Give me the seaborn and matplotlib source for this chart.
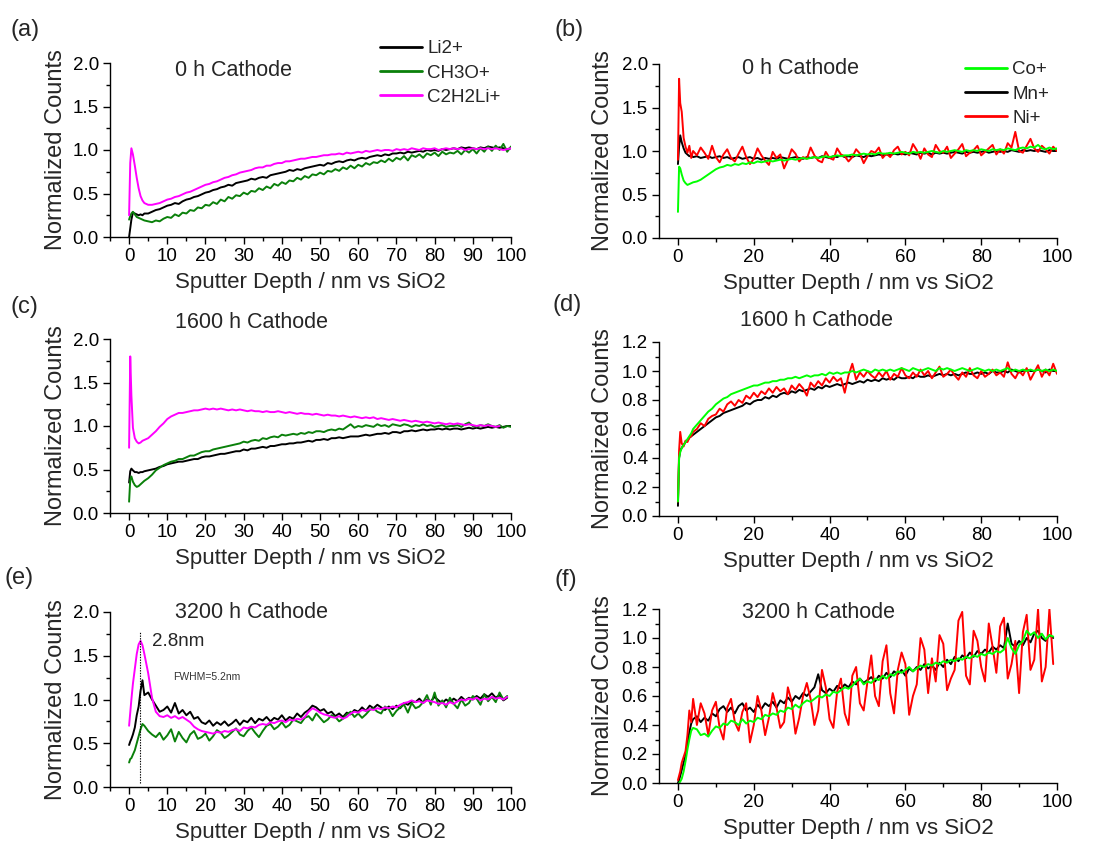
import matplotlib
matplotlib.use("Agg")
import matplotlib.pyplot as plt
from matplotlib.ticker import MultipleLocator
from matplotlib.lines import Line2D
import seaborn as sns

nan = float("nan")

# ---------------- data ----------------
depth = [0, 0.3, 0.6, 1, 1.5, 2, 2.5, 3, 3.5, 4,
         5, 6, 7, 8, 9, 10, 11, 12, 13, 14,
         15, 16, 17, 18, 19, 20, 21, 22, 23, 24,
         25, 26, 27, 28, 29, 30, 31, 32, 33, 34,
         35, 36, 37, 38, 39, 40, 41, 42, 43, 44,
         45, 46, 47, 48, 49, 50, 51, 52, 53, 54,
         55, 56, 57, 58, 59, 60, 61, 62, 63, 64,
         65, 66, 67, 68, 69, 70, 71, 72, 73, 74,
         75, 76, 77, 78, 79, 80, 81, 82, 83, 84,
         85, 86, 87, 88, 89, 90, 91, 92, 93, 94,
         95, 96, 97, 98, 99, 100]

# (a) 0 h, organic / Li species
a_li2 = [0.0, 0.1, 0.2, 0.28, 0.27, 0.26, 0.25, 0.26, 0.25, 0.27,
         0.27, 0.29, 0.31, 0.32, 0.34, 0.36, 0.37, 0.39, 0.38, 0.41,
         0.43, 0.44, 0.46, 0.47, 0.49, 0.51, 0.52, 0.54, 0.55, 0.57,
         0.58, 0.60, 0.59, 0.62, 0.63, 0.64, 0.65, 0.67, 0.66, 0.68,
         0.69, 0.68, 0.71, 0.72, 0.73, 0.74, 0.75, 0.77, 0.76, 0.78,
         0.77, 0.79, 0.80, 0.81, 0.82, 0.83, 0.82, 0.85, 0.84, 0.86,
         0.87, 0.86, 0.88, 0.89, 0.88, 0.90, 0.91, 0.90, 0.92, 0.93,
         0.94, 0.93, 0.95, 0.94, 0.96, 0.96, 0.97, 0.96, 0.98, 0.97,
         0.98, 0.99, 0.98, 1.00, 0.99, 1.00, 0.99, 1.01, 1.00, 1.01,
         1.02, 1.01, 1.03, 1.02, 1.03, 1.02, 1.01, 1.03, 1.02, 1.04,
         1.03, 1.02, 1.03, 1.02, 1.01, 1.02]
a_ch3o = [0.20, 0.24, 0.27, 0.29, 0.26, 0.23, 0.22, 0.21, 0.20, 0.19,
          0.18, 0.17, 0.19, 0.18, 0.21, 0.23, 0.22, 0.26, 0.24, 0.28,
          0.27, 0.31, 0.30, 0.34, 0.33, 0.37, 0.36, 0.40, 0.38, 0.43,
          0.41, 0.46, 0.44, 0.48, 0.47, 0.51, 0.49, 0.53, 0.52, 0.56,
          0.54, 0.58, 0.56, 0.61, 0.59, 0.63, 0.61, 0.65, 0.64, 0.68,
          0.66, 0.70, 0.68, 0.72, 0.71, 0.74, 0.72, 0.76, 0.75, 0.78,
          0.76, 0.80, 0.78, 0.82, 0.79, 0.83, 0.81, 0.85, 0.83, 0.86,
          0.85, 0.88, 0.86, 0.90, 0.87, 0.91, 0.89, 0.93, 0.88, 0.94,
          0.92, 0.95, 0.91, 0.96, 0.94, 0.97, 0.93, 0.98, 0.95, 0.97,
          0.96, 0.99, 0.95, 1.00, 0.97, 1.01, 0.96, 1.02, 0.98, 1.04,
          0.99, 1.05, 1.00, 1.07, 0.98, 1.04]
a_c2h2li = [0.25, 0.85, 1.02, 0.95, 0.82, 0.68, 0.56, 0.47, 0.42, 0.39,
            0.37, 0.37, 0.38, 0.39, 0.41, 0.43, 0.44, 0.46, 0.47, 0.49,
            0.51, 0.52, 0.54, 0.56, 0.58, 0.60, 0.61, 0.63, 0.64, 0.66,
            0.68, 0.69, 0.71, 0.72, 0.74, 0.75, 0.76, 0.77, 0.79, 0.80,
            0.80, 0.82, 0.82, 0.84, 0.85, 0.85, 0.87, 0.87, 0.88, 0.89,
            0.90, 0.90, 0.91, 0.92, 0.92, 0.93, 0.94, 0.94, 0.95, 0.95,
            0.96, 0.95, 0.97, 0.96, 0.97, 0.98, 0.97, 0.99, 0.98, 0.99,
            1.00, 0.99, 1.00, 1.00, 0.99, 1.01, 1.00, 1.01, 1.00, 1.02,
            1.01, 1.00, 1.02, 1.01, 1.01, 1.02, 1.00, 1.01, 1.02, 1.01,
            1.02, 1.01, 1.02, 1.00, 1.01, 1.02, 1.01, 1.02, 1.01, 1.02,
            1.01, 1.02, 1.01, 1.00, 1.01, 1.02]

# (b) 0 h, transition metals
b_mn = [0.85, 1.05, 1.18, 1.10, 1.03, 0.98, 0.96, 0.94, 0.95, 0.93,
        0.94, 0.92, 0.93, 0.94, 0.92, 0.93, 0.94, 0.92, 0.93, 0.91,
        0.92, 0.93, 0.91, 0.92, 0.93, 0.91, 0.92, 0.90, 0.92, 0.91,
        0.92, 0.91, 0.93, 0.92, 0.91, 0.92, 0.93, 0.92, 0.91, 0.93,
        0.92, 0.93, 0.92, 0.94, 0.93, 0.92, 0.94, 0.93, 0.95, 0.93,
        0.94, 0.93, 0.95, 0.94, 0.93, 0.95, 0.94, 0.95, 0.96, 0.95,
        0.96, 0.95, 0.97, 0.96, 0.97, 0.96, 0.98, 0.97, 0.96, 0.98,
        0.97, 0.98, 0.96, 0.98, 0.97, 0.98, 0.97, 0.98, 0.99, 0.98,
        0.97, 0.99, 0.98, 0.99, 0.98, 0.99, 1.00, 0.98, 0.99, 1.00,
        0.99, 1.00, 0.99, 1.01, 1.00, 0.99, 1.01, 1.00, 1.01, 1.00,
        1.01, 1.00, 0.99, 1.01, 1.00, 1.00]
b_ni = [0.90, 1.83, 1.55, 1.45, 1.15, 1.05, 0.98, 1.06, 0.92, 1.00,
        0.95, 1.04, 0.98, 0.91, 1.06, 0.93, 0.87, 0.96, 1.02, 0.92,
        0.88, 0.97, 1.05, 0.93, 0.85, 0.91, 1.03, 0.95, 0.89, 0.84,
        0.99, 0.92, 0.96, 0.80, 0.90, 1.02, 0.97, 0.88, 0.93, 0.91,
        1.04, 0.95, 0.89, 0.87, 0.99, 0.92, 0.90, 1.03, 0.96, 0.94,
        0.88, 0.93, 1.02, 0.97, 0.86, 0.94, 1.00, 0.98, 1.04, 0.92,
        0.97, 0.93, 1.01, 1.05, 0.96, 0.99, 0.95, 1.08, 1.01, 0.91,
        1.03, 0.96, 0.93, 1.07, 1.00, 0.98, 1.05, 0.92, 0.97, 1.02,
        1.08, 0.94, 0.98, 1.01, 1.06, 0.95, 0.99, 1.03, 1.07, 0.96,
        1.02, 0.97, 1.09, 1.04, 1.22, 1.00, 0.98, 1.06, 1.14, 1.03,
        0.99, 1.06, 1.02, 0.97, 1.05, 1.00]
b_co = [0.30, 0.82, 0.80, 0.73, 0.66, 0.63, 0.61, 0.62, 0.63, 0.64,
        0.65, 0.67, 0.70, 0.73, 0.76, 0.79, 0.81, 0.82, 0.84, 0.83,
        0.85, 0.84, 0.86, 0.85, 0.87, 0.86, 0.88, 0.87, 0.88, 0.89,
        0.88, 0.89, 0.90, 0.89, 0.90, 0.91, 0.90, 0.91, 0.92, 0.91,
        0.92, 0.93, 0.92, 0.93, 0.94, 0.93, 0.94, 0.95, 0.94, 0.95,
        0.95, 0.96, 0.95, 0.96, 0.97, 0.96, 0.97, 0.96, 0.98, 0.97,
        0.97, 0.98, 0.97, 0.98, 0.99, 0.98, 0.97, 0.99, 0.98, 0.99,
        0.98, 0.99, 1.00, 0.99, 0.98, 1.00, 0.99, 1.00, 1.01, 1.00,
        0.99, 1.01, 1.00, 1.01, 1.00, 1.02, 1.01, 1.00, 1.02, 1.01,
        1.02, 1.01, 1.03, 1.02, 1.01, 1.03, 1.04, 1.03, 1.05, 1.04,
        1.07, 1.03, 1.02, 1.04, 1.02, 1.03]

# (c) 1600 h, organic / Li species
c_li2 = [0.35, 0.48, 0.51, 0.49, 0.47, 0.47, 0.46, 0.47, 0.47, 0.48,
         0.49, 0.50, 0.51, 0.53, 0.54, 0.56, 0.57, 0.58, 0.59, 0.59,
         0.60, 0.61, 0.62, 0.62, 0.64, 0.65, 0.65, 0.66, 0.67, 0.68,
         0.68, 0.69, 0.70, 0.71, 0.71, 0.73, 0.72, 0.74, 0.74, 0.75,
         0.76, 0.75, 0.77, 0.77, 0.78, 0.79, 0.79, 0.80, 0.80, 0.81,
         0.81, 0.82, 0.83, 0.82, 0.84, 0.84, 0.85, 0.84, 0.86, 0.86,
         0.87, 0.86, 0.87, 0.88, 0.88, 0.88, 0.89, 0.90, 0.89, 0.90,
         0.91, 0.91, 0.92, 0.91, 0.93, 0.93, 0.92, 0.94, 0.94, 0.95,
         0.94, 0.95, 0.96, 0.95, 0.96, 0.96, 0.97, 0.96, 0.97, 0.96,
         0.97, 0.97, 0.96, 0.97, 0.98, 0.97, 0.98, 0.97, 0.98, 0.99,
         0.98, 0.99, 0.98, 0.99, 1.00, 1.00]
c_ch3o = [0.13, 0.38, 0.42, 0.36, 0.32, 0.30, 0.31, 0.33, 0.35, 0.37,
          0.40, 0.44, 0.49, 0.52, 0.55, 0.57, 0.59, 0.60, 0.62, 0.62,
          0.64, 0.66, 0.66, 0.68, 0.70, 0.71, 0.71, 0.73, 0.74, 0.75,
          0.76, 0.77, 0.78, 0.79, 0.80, 0.82, 0.81, 0.83, 0.84, 0.83,
          0.86, 0.85, 0.87, 0.88, 0.87, 0.90, 0.89, 0.90, 0.91, 0.90,
          0.92, 0.91, 0.93, 0.92, 0.94, 0.94, 0.93, 0.95, 0.96, 0.95,
          0.97, 0.96, 0.99, 1.02, 0.98, 1.00, 0.99, 1.01, 1.00, 0.99,
          1.02, 1.00, 1.01, 0.99, 1.02, 1.01, 1.00, 1.02, 1.01, 0.99,
          1.01, 1.00, 1.02, 1.00, 1.01, 0.99, 1.00, 1.01, 0.99, 1.00,
          1.00, 1.01, 0.99, 1.02, 1.04, 1.00, 0.99, 1.01, 1.00, 1.02,
          1.00, 0.99, 1.01, 0.98, 1.00, 0.99]
c_c2h2li = [0.75, 1.80, 1.35, 0.98, 0.86, 0.82, 0.80, 0.81, 0.83, 0.84,
            0.86, 0.90, 0.94, 0.99, 1.03, 1.08, 1.11, 1.13, 1.15, 1.15,
            1.16, 1.17, 1.18, 1.18, 1.19, 1.20, 1.19, 1.20, 1.19, 1.20,
            1.19, 1.18, 1.19, 1.18, 1.19, 1.18, 1.17, 1.18, 1.17, 1.17,
            1.16, 1.17, 1.16, 1.16, 1.17, 1.16, 1.15, 1.16, 1.15, 1.14,
            1.15, 1.14, 1.14, 1.13, 1.14, 1.13, 1.12, 1.13, 1.12, 1.12,
            1.11, 1.12, 1.11, 1.10, 1.11, 1.10, 1.09, 1.10, 1.09, 1.10,
            1.08, 1.09, 1.08, 1.07, 1.08, 1.07, 1.06, 1.07, 1.06, 1.05,
            1.06, 1.05, 1.04, 1.05, 1.04, 1.03, 1.04, 1.03, 1.02, 1.03,
            1.02, 1.03, 1.02, 1.01, 1.02, 1.01, 1.00, 1.01, 1.00, 1.01,
            1.00, 0.99, 1.00, nan, nan, nan]

# (d) 1600 h, transition metals
d_mn = [0.07, 0.40, 0.45, 0.47, 0.49, 0.51, 0.52, 0.54, 0.55, 0.56,
        0.58, 0.60, 0.62, 0.64, 0.66, 0.68, 0.69, 0.71, 0.72, 0.73,
        0.74, 0.75, 0.76, 0.78, 0.77, 0.79, 0.80, 0.80, 0.82, 0.81,
        0.83, 0.82, 0.84, 0.85, 0.84, 0.86, 0.85, 0.87, 0.86, 0.87,
        0.88, 0.87, 0.89, 0.88, 0.90, 0.89, 0.90, 0.91, 0.90, 0.91,
        0.92, 0.91, 0.92, 0.93, 0.92, 0.94, 0.93, 0.94, 0.93, 0.95,
        0.94, 0.95, 0.94, 0.96, 0.95, 0.95, 0.96, 0.95, 0.97, 0.96,
        0.96, 0.97, 0.96, 0.97, 0.98, 0.97, 0.98, 0.97, 0.98, 0.97,
        0.98, 0.99, 0.98, 0.98, 0.99, 0.98, 0.99, 0.98, 1.00, 0.99,
        0.99, 1.00, 0.99, 1.01, 1.00, 0.99, 1.00, 1.01, 1.00, 1.00,
        1.01, 1.00, 0.99, 1.01, 1.00, 1.00]
d_ni = [0.10, 0.45, 0.58, 0.50, 0.48, 0.52, 0.51, 0.54, 0.55, 0.58,
        0.60, 0.64, 0.62, 0.67, 0.69, 0.70, 0.74, 0.72, 0.77, 0.79,
        0.76, 0.80, 0.78, 0.83, 0.81, 0.85, 0.82, 0.86, 0.84, 0.88,
        0.85, 0.89, 0.86, 0.88, 0.84, 0.90, 0.87, 0.91, 0.88, 0.83,
        0.92, 0.89, 0.93, 0.90, 0.95, 0.92, 0.96, 0.93, 0.95, 0.85,
        0.97, 1.05, 0.94, 0.99, 0.96, 1.00, 0.97, 0.95, 0.99, 0.96,
        1.00, 0.94, 0.98, 0.96, 1.02, 0.97, 0.95, 0.99, 0.96, 1.01,
        0.97, 1.00, 0.95, 0.99, 1.03, 0.96, 0.98, 1.01, 0.97, 0.94,
        0.99, 0.96, 1.02, 0.97, 0.95, 1.00, 0.96, 0.98, 1.01, 0.97,
        0.99, 0.96, 1.06, 0.98, 0.95, 1.00, 0.97, 1.02, 0.94, 0.99,
        1.04, 0.96, 1.01, 0.97, 1.05, 0.98]
d_co = [0.10, 0.40, 0.44, 0.47, 0.49, 0.51, 0.53, 0.55, 0.57, 0.60,
        0.63, 0.66, 0.69, 0.72, 0.74, 0.77, 0.79, 0.81, 0.82, 0.84,
        0.85, 0.86, 0.87, 0.88, 0.89, 0.90, 0.90, 0.91, 0.92, 0.92,
        0.93, 0.93, 0.94, 0.94, 0.95, 0.95, 0.96, 0.95, 0.96, 0.97,
        0.96, 0.97, 0.97, 0.98, 0.97, 0.99, 0.98, 0.99, 0.98, 0.99,
        0.99, 1.00, 0.99, 1.00, 1.01, 1.00, 0.99, 1.01, 1.00, 1.01,
        1.00, 1.01, 1.00, 1.01, 1.02, 1.01, 1.00, 1.02, 1.01, 1.00,
        1.01, 1.02, 1.01, 1.00, 1.02, 1.01, 1.02, 1.01, 1.00, 1.01,
        1.02, 1.01, 1.00, 1.01, 1.02, 1.01, 1.00, 1.01, 1.00, 1.01,
        1.00, 1.01, 1.02, 1.00, 1.01, 1.00, 1.01, 1.00, 1.01, 1.00,
        1.01, 1.00, 1.01, 1.00, 1.01, 1.00]

# (e) 3200 h, organic / Li species
e_li2 = [0.48, 0.52, 0.55, 0.60, 0.68, 0.82, 0.92, 1.10, 1.22, 1.05,
         1.08, 1.00, 0.93, 0.86, 0.88, 0.92, 0.85, 0.96, 0.84, 0.88,
         0.82, 0.86, 0.78, 0.80, 0.74, 0.72, 0.76, 0.70, 0.74, 0.71,
         0.75, 0.70, 0.73, 0.77, 0.71, 0.76, 0.74, 0.79, 0.73, 0.78,
         0.76, 0.80, 0.75, 0.79, 0.77, 0.82, 0.76, 0.80, 0.78, 0.84,
         0.80, 0.85, 0.88, 0.93, 0.91, 0.87, 0.89, 0.84, 0.86, 0.81,
         0.84, 0.80, 0.85, 0.83, 0.88, 0.86, 0.91, 0.87, 0.93, 0.90,
         0.94, 0.91, 0.88, 0.92, 0.89, 0.93, 0.90, 0.96, 0.94, 0.98,
         0.97, 1.01, 0.96, 1.00, 0.98, 1.03, 0.99, 0.96, 1.00, 0.97,
         1.01, 0.98, 1.03, 0.99, 1.02, 1.00, 1.04, 1.01, 1.06, 1.03,
         1.07, 1.02, 1.05, 0.99, 1.02, nan]
e_ch3o = [0.28, 0.32, 0.33, 0.37, 0.42, 0.50, 0.58, 0.66, 0.72, 0.70,
          0.64, 0.60, 0.57, 0.62, 0.54, 0.59, 0.66, 0.52, 0.63, 0.56,
          0.51, 0.60, 0.64, 0.55, 0.57, 0.61, 0.53, 0.58, 0.65, 0.62,
          0.56, 0.59, 0.63, 0.67, 0.60, 0.58, 0.64, 0.68, 0.62, 0.57,
          0.64, 0.70, 0.72, 0.66, 0.69, 0.74, 0.68, 0.71, 0.77, 0.75,
          0.73, 0.79, 0.81, 0.76, 0.84, 0.79, 0.74, 0.77, 0.82, 0.80,
          0.75, 0.78, 0.83, 0.86, 0.80, 0.84, 0.79, 0.83, 0.88, 0.90,
          0.86, 0.84, 0.92, 0.89, 0.81, 0.87, 0.91, 0.94, 0.85, 0.96,
          0.90, 0.92, 0.97, 1.05, 0.94, 1.08, 0.93, 0.99, 0.91, 1.02,
          0.95, 0.90, 1.00, 0.93, 0.96, 1.04, 1.01, 0.94, 1.06, 0.98,
          1.03, 0.97, 1.08, 1.00, 1.04, nan]
e_c2h2li = [0.70, 0.85, 1.00, 1.18, 1.35, 1.52, 1.63, 1.67, 1.62, 1.52,
            1.30, 1.02, 0.86, 0.81, 0.80, 0.82, 0.79, 0.81, 0.78, 0.80,
            0.77, 0.74, 0.69, 0.66, 0.64, 0.63, 0.62, 0.61, 0.63, 0.62,
            0.64, 0.63, 0.65, 0.66, 0.64, 0.68, 0.67, 0.69, 0.68, 0.71,
            0.72, 0.71, 0.74, 0.73, 0.75, 0.76, 0.74, 0.77, 0.76, 0.78,
            0.77, 0.80, 0.86, 0.90, 0.88, 0.85, 0.83, 0.82, 0.80, 0.79,
            0.81, 0.78, 0.80, 0.84, 0.86, 0.85, 0.88, 0.87, 0.89, 0.88,
            0.90, 0.89, 0.91, 0.90, 0.92, 0.91, 0.94, 0.96, 0.97, 0.99,
            0.97, 0.98, 0.96, 0.99, 0.98, 0.97, 0.95, 0.96, 0.94, 0.97,
            0.95, 0.98, 1.00, 0.99, 1.01, 1.00, 1.02, 0.99, 1.01, 1.00,
            1.03, 1.01, 1.02, 1.00, 1.03, nan]

# (f) 3200 h, transition metals
f_mn = [0.00, 0.02, 0.05, 0.09, 0.14, 0.19, 0.27, 0.35, 0.41, 0.44,
        0.46, 0.42, 0.45, 0.43, 0.48, 0.46, 0.51, 0.53, 0.49, 0.52,
        0.48, 0.53, 0.55, 0.50, 0.52, 0.49, 0.54, 0.51, 0.55, 0.53,
        0.56, 0.52, 0.57, 0.55, 0.59, 0.56, 0.60, 0.58, 0.62, 0.60,
        0.63, 0.66, 0.75, 0.64, 0.62, 0.65, 0.63, 0.67, 0.65, 0.68,
        0.66, 0.70, 0.68, 0.72, 0.69, 0.71, 0.73, 0.70, 0.74, 0.72,
        0.76, 0.73, 0.77, 0.75, 0.78, 0.74, 0.79, 0.77, 0.80, 0.78,
        0.82, 0.79, 0.81, 0.78, 0.83, 0.80, 0.85, 0.82, 0.87, 0.84,
        0.88, 0.86, 0.90, 0.87, 0.91, 0.89, 0.92, 0.90, 0.94, 0.92,
        0.95, 0.93, 1.10, 0.96, 0.94, 0.98, 0.95, 1.00, 0.97, 1.03,
        1.05, 1.00, 0.98, 1.02, 1.00, nan]
f_ni = [0.02, 0.05, 0.08, 0.14, 0.18, 0.22, 0.33, 0.50, 0.42, 0.58,
        0.40, 0.55, 0.48, 0.33, 0.50, 0.56, 0.38, 0.30, 0.52, 0.58,
        0.42, 0.36, 0.49, 0.55, 0.28, 0.40, 0.60, 0.50, 0.33, 0.45,
        0.62, 0.52, 0.38, 0.42, 0.66, 0.56, 0.34, 0.45, 0.60, 0.69,
        0.58, 0.40, 0.50, 0.78, 0.66, 0.44, 0.38, 0.63, 0.72, 0.48,
        0.40, 0.74, 0.80, 0.55, 0.50, 0.70, 0.88, 0.60, 0.53, 0.84,
        0.95, 0.62, 0.48, 0.78, 0.90, 0.82, 0.47, 0.60, 0.68, 1.00,
        0.92, 0.62, 0.86, 0.70, 1.02, 0.96, 0.64, 0.72, 0.78, 1.12,
        1.18, 0.74, 0.68, 1.05, 0.98, 0.80, 0.70, 1.10, 0.94, 0.76,
        1.08, 1.14, 0.72, 0.82, 0.98, 0.62, 1.04, 1.16, 0.78, 0.85,
        1.20, 0.70, 0.80, 1.20, 0.82, nan]
f_co = [nan, 0.00, 0.01, 0.03, 0.08, 0.15, 0.23, 0.30, 0.36, 0.38,
        0.37, 0.33, 0.34, 0.32, 0.36, 0.39, 0.38, 0.41, 0.40, 0.43,
        0.42, 0.40, 0.44, 0.41, 0.43, 0.42, 0.45, 0.44, 0.47, 0.46,
        0.48, 0.47, 0.50, 0.49, 0.52, 0.51, 0.54, 0.52, 0.55, 0.57,
        0.56, 0.58, 0.60, 0.59, 0.61, 0.60, 0.63, 0.62, 0.64, 0.66,
        0.65, 0.67, 0.70, 0.72, 0.68, 0.70, 0.69, 0.72, 0.71, 0.74,
        0.72, 0.75, 0.74, 0.77, 0.76, 0.78, 0.80, 0.77, 0.79, 0.81,
        0.80, 0.82, 0.81, 0.83, 0.82, 0.84, 0.83, 0.85, 0.84, 0.86,
        0.85, 0.87, 0.86, 0.88, 0.87, 0.89, 0.88, 0.90, 0.89, 0.91,
        0.90, 0.92, 1.00, 0.93, 0.89, 0.95, 0.98, 1.05, 1.02, 1.04,
        1.00, 1.03, 0.99, 1.02, 1.01, nan]

organic_labels = ["Li2+", "CH3O+", "C2H2Li+"]
metal_labels = ["Co+", "Mn+", "Ni+"]
panel_titles = ["0 h Cathode", "0 h Cathode", "1600 h Cathode",
                "1600 h Cathode", "3200 h Cathode", "3200 h Cathode"]
panel_tags = ["(a)", "(b)", "(c)", "(d)", "(e)", "(f)"]
peak_depth = 2.8
peak_label = "2.8nm"
fwhm_label = "FWHM=5.2nm"

# ---------------- style ----------------
sns.set_style("ticks")
plt.rcParams["font.family"] = ["Liberation Sans", "DejaVu Sans"]
plt.rcParams["axes.linewidth"] = 1.0
plt.rcParams["xtick.major.width"] = 1.0
plt.rcParams["ytick.major.width"] = 1.0
plt.rcParams["xtick.minor.width"] = 1.0
plt.rcParams["ytick.minor.width"] = 1.0
plt.rcParams["xtick.color"] = "black"
plt.rcParams["ytick.color"] = "black"
plt.rcParams["axes.edgecolor"] = "black"

C_BLACK = "#000000"
C_DGREEN = "#0a800a"
C_MAG = "#ff00ff"
C_LIME = "#00ff00"
C_RED = "#ff0000"

W, H = 1113, 841
fig = plt.figure(figsize=(W / 100, H / 100), dpi=100)


def px_rect(left, top, right, bottom):
    return [left / W, 1 - bottom / H, (right - left) / W, (bottom - top) / H]


rects = [px_rect(110, 63, 511, 237), px_rect(659, 64, 1057, 238),
         px_rect(110, 339, 511, 513), px_rect(659, 342, 1057, 516),
         px_rect(110, 612, 511, 787), px_rect(659, 609, 1057, 783)]

axes = [fig.add_axes(r) for r in rects]

TICK_FS = 13.5
XLABEL_FS = 16
YLABEL_FS = 17
TITLE_FS = 15.5
LW = 1.4


def draw(ax, ys, colors, labels):
    for y, c, lab in zip(ys, colors, labels):
        sns.lineplot(x=depth, y=y, ax=ax, color=c, linewidth=LW,
                     estimator=None, sort=False, label=lab)
    if ax.get_legend() is not None:
        ax.get_legend().remove()


draw(axes[0], [a_li2, a_ch3o, a_c2h2li], [C_BLACK, C_DGREEN, C_MAG], organic_labels)
draw(axes[1], [b_mn, b_ni, b_co], [C_BLACK, C_RED, C_LIME], ["Mn+", "Ni+", "Co+"])
draw(axes[2], [c_li2, c_ch3o, c_c2h2li], [C_BLACK, C_DGREEN, C_MAG], organic_labels)
draw(axes[3], [d_mn, d_ni, d_co], [C_BLACK, C_RED, C_LIME], ["Mn+", "Ni+", "Co+"])
draw(axes[4], [e_li2, e_ch3o, e_c2h2li], [C_BLACK, C_DGREEN, C_MAG], organic_labels)
draw(axes[5], [f_mn, f_ni, f_co], [C_BLACK, C_RED, C_LIME], ["Mn+", "Ni+", "Co+"])

for i, ax in enumerate(axes):
    left = (i % 2 == 0)
    ax.set_xlim(-5, 100)
    if i in (3, 5):
        ax.set_ylim(0, 1.2)
        ax.yaxis.set_major_locator(MultipleLocator(0.2))
        ax.yaxis.set_minor_locator(MultipleLocator(0.1))
    else:
        ax.set_ylim(0, 2.0)
        ax.yaxis.set_major_locator(MultipleLocator(0.5))
        ax.yaxis.set_minor_locator(MultipleLocator(0.25))
    if left:
        ax.xaxis.set_major_locator(MultipleLocator(10))
        ax.xaxis.set_minor_locator(MultipleLocator(5))
    else:
        ax.xaxis.set_major_locator(MultipleLocator(20))
        ax.xaxis.set_minor_locator(MultipleLocator(10))
    ax.tick_params(which="major", direction="out", length=5, labelsize=TICK_FS,
                   pad=3, colors="black")
    ax.tick_params(which="minor", direction="out", length=3)
    sns.despine(ax=ax)
    ax.set_xlabel("Sputter Depth / nm vs SiO2", fontsize=XLABEL_FS, labelpad=5)
    ax.set_ylabel("Normalized Counts", fontsize=YLABEL_FS)
    bb_w = rects[i][2] * W
    right_px = 67 - 110 if left else 614 - 659
    ax.yaxis.set_label_coords(right_px / bb_w, 0.5)
    ax.set_facecolor("white")

# panel titles (text placed like the reference)
title_pos = [(175, 70), (742, 68), (175, 323), (740, 321), (175, 612), (742, 613)]
for (x, y), t in zip(title_pos, panel_titles):
    fig.text(x / W, 1 - y / H, t, fontsize=TITLE_FS, ha="left", va="center")

tag_pos = [(10, 30), (555, 30), (10, 307), (553, 305), (5, 578), (555, 580)]
for (x, y), t in zip(tag_pos, panel_tags):
    fig.text(x / W, 1 - y / H, t, fontsize=17, ha="left", va="center")

# annotations in (e)
ax_e = axes[4]
ax_e.vlines(peak_depth, 0.05, 1.77, colors="black", linestyles=(0, (1.2, 1.2)),
            linewidth=0.8, zorder=5)
ax_e.text(6.0, 1.66, peak_label, fontsize=13.5, ha="left", va="center")
ax_e.text(11.5, 1.26, fwhm_label, fontsize=7.5, ha="left", va="center",
          color="#333333")

# legends
org_handles = [Line2D([], [], color=c, lw=2.0) for c in (C_BLACK, C_DGREEN, C_MAG)]
met_handles = [Line2D([], [], color=c, lw=2.0) for c in (C_LIME, C_BLACK, C_RED)]
leg_kw = dict(frameon=False, fontsize=13.5, handlelength=2.25, handletextpad=0.28,
              labelspacing=0.39, borderpad=0, borderaxespad=0, loc="upper left",
              bbox_transform=fig.transFigure)
fig.legend(org_handles, organic_labels, bbox_to_anchor=(380 / W, 1 - 40 / H), **leg_kw)
fig.legend(met_handles, metal_labels, bbox_to_anchor=(965 / W, 1 - 61 / H), **leg_kw)

fig.savefig("out.png", dpi=100, facecolor="white")
